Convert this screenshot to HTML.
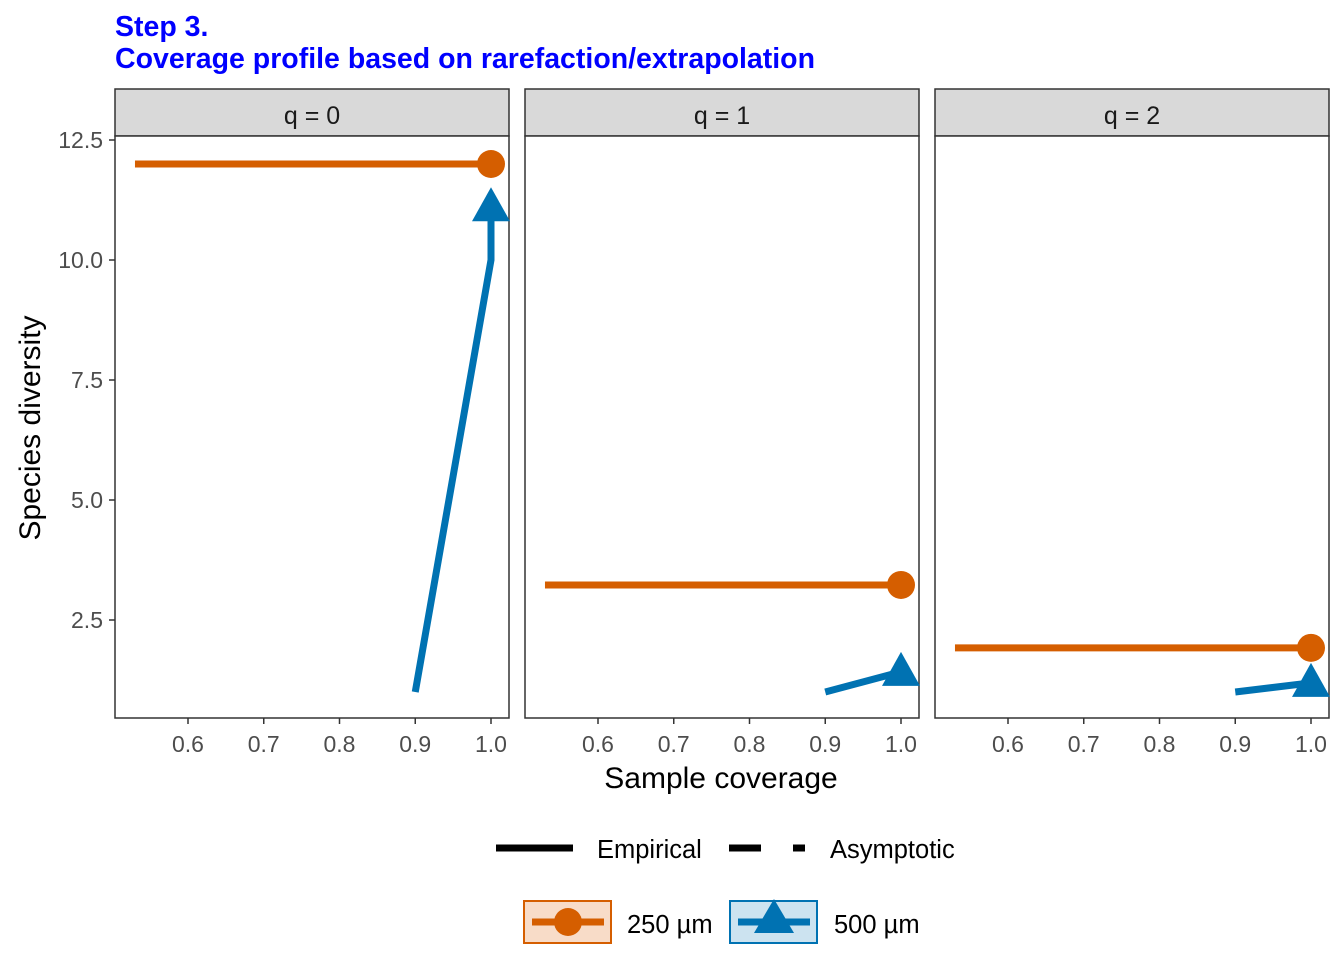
<!DOCTYPE html>
<html><head><meta charset="utf-8"><style>
body{margin:0;background:#fff;font-family:"Liberation Sans",sans-serif}
</style></head><body>
<svg id="c" width="1344" height="960" xmlns="http://www.w3.org/2000/svg">
<text x="115" y="36" font-size="28.5" font-weight="bold" fill="#0000ff">Step 3.</text>
<text x="115" y="68" font-size="28.5" font-weight="bold" fill="#0000ff">Coverage profile based on rarefaction/extrapolation</text>
<text transform="translate(40,428) rotate(-90)" text-anchor="middle" font-size="30">Species diversity</text>
<text x="721" y="788" text-anchor="middle" font-size="30">Sample coverage</text>
<g>
<line x1="496" y1="848" x2="573" y2="848" stroke="#000" stroke-width="7"/>
<text x="597" y="858" font-size="25.5">Empirical</text>
<line x1="729" y1="848" x2="761" y2="848" stroke="#000" stroke-width="7"/>
<line x1="793" y1="848" x2="805" y2="848" stroke="#000" stroke-width="7"/>
<text x="830" y="858" font-size="25.5">Asymptotic</text>
</g>
<g>
<rect x="524" y="901" width="87" height="42" fill="#f8dcc8" stroke="#d55e00" stroke-width="2"/>
<line x1="532" y1="922" x2="604" y2="922" stroke="#d55e00" stroke-width="7"/>
<circle cx="568" cy="922" r="14" fill="#d55e00"/>
<text x="627" y="933" font-size="25.5">250 µm</text>
<rect x="730" y="901" width="87" height="42" fill="#cce3f0" stroke="#0072b2" stroke-width="2"/>
<line x1="738" y1="922" x2="810" y2="922" stroke="#0072b2" stroke-width="7"/>
<polygon points="774,899 754,933 794,933" fill="#0072b2"/>
<text x="834" y="933" font-size="25.5">500 µm</text>
</g>
<g id="panels"></g>
</svg>
<script>
const facets=["q = 0","q = 1","q = 2"];
const xTicks=[0.6,0.7,0.8,0.9,1.0];
const yTicks=[2.5,5.0,7.5,10.0,12.5];
const x250=[[0.53,1.0],[0.53,1.0],[0.53,1.0]];
const y250=[[12.0,12.0],[3.23,3.23],[1.92,1.92]];
const x500=[[0.9,1.0,1.0],[0.9,1.0],[0.9,1.0]];
const y500=[[1.0,10.0,11.1],[1.0,1.42],[1.0,1.19]];
const NS="http://www.w3.org/2000/svg";
const pgRoot=document.getElementById('panels');
function mk(t,a,p){const e=document.createElementNS(NS,t);for(const k in a)e.setAttribute(k,a[k]);(p||pgRoot).appendChild(e);return e;}
const yTop=136,yBot=718,pw=394;
const ys=v=>140+(12.5-v)*48;
facets.forEach((f,i)=>{
 const x0=115+i*410;
 const xs=v=>x0+73+(v-0.6)*757.5;
 const pg=mk('g',{});
 
 
 const s=mk('rect',{x:x0,y:89,width:pw,height:47,fill:'#d9d9d9',stroke:'#333','stroke-width':1.5},pg);
 
 
 const st=mk('text',{x:x0+pw/2,y:124,'text-anchor':'middle','font-size':25,fill:'#1a1a1a'},pg);st.textContent=f;
 
 
 mk('rect',{x:x0,y:yTop,width:pw,height:yBot-yTop,fill:'#fff',stroke:'#333','stroke-width':1.5},pg);
 xTicks.forEach(t=>{const X=xs(t);mk('line',{x1:X,y1:yBot,x2:X,y2:yBot+6,stroke:'#333','stroke-width':1.5},pg);
  const tx=mk('text',{x:X,y:752,'text-anchor':'middle','font-size':23,fill:'#4d4d4d'},pg);tx.textContent=t.toFixed(1);
  
  });
 if(i==0)yTicks.forEach(t=>{const Y=ys(t);mk('line',{x1:x0-6,y1:Y,x2:x0,y2:Y,stroke:'#333','stroke-width':1.5},pg);
  const ty=mk('text',{x:x0-12,y:Y+8,'text-anchor':'end','font-size':23,fill:'#4d4d4d'},pg);ty.textContent=t.toFixed(1);
  
  });
 const p1=mk('polyline',{points:x250[i].map((v,j)=>xs(v)+','+ys(y250[i][j])).join(' '),fill:'none',stroke:'#d55e00','stroke-width':7},pg);
 
 
 const p2=mk('polyline',{points:x500[i].map((v,j)=>xs(v)+','+ys(y500[i][j])).join(' '),fill:'none',stroke:'#0072b2','stroke-width':7},pg);
 
 
 const n1=x250[i].length-1,n2=x500[i].length-1;
 const c=mk('circle',{cx:xs(x250[i][n1]),cy:ys(y250[i][n1]),r:14,fill:'#d55e00'},pg);
 
 
 const tx=xs(x500[i][n2]),ty=ys(y500[i][n2]);
 const tr=mk('polygon',{points:`${tx},${ty-20} ${tx-19},${ty+14} ${tx+19},${ty+14}`,fill:'#0072b2'},pg);
 
 
});
</script>
</body></html>
